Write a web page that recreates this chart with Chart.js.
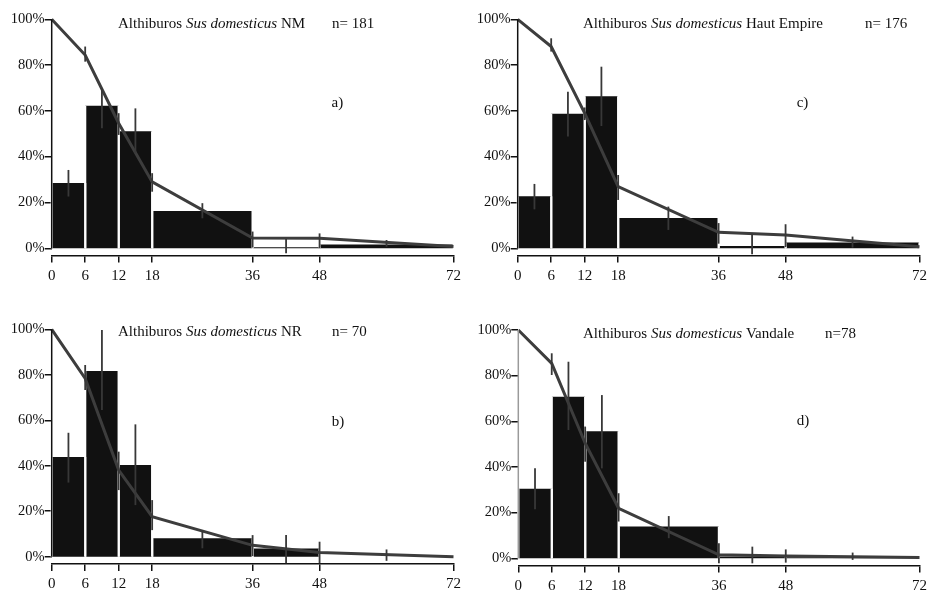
<!DOCTYPE html>
<html>
<head>
<meta charset="utf-8">
<script src="https://cdn.jsdelivr.net/npm/chart.js@4.4.1/dist/chart.umd.min.js"></script>
<style>
  html, body { margin: 0; padding: 0; background: #fff; }
  #wrap { position: relative; width: 931px; height: 592px; overflow: hidden; background: #fff; }
  canvas { position: absolute; }
</style>
</head>
<body>
<div id="wrap">
  <canvas id="cA" width="465" height="296" style="left:0px;top:0px;width:465px;height:296px"></canvas>
  <canvas id="cC" width="466" height="296" style="left:465px;top:0px;width:466px;height:296px"></canvas>
  <canvas id="cB" width="465" height="296" style="left:0px;top:296px;width:465px;height:296px"></canvas>
  <canvas id="cD" width="466" height="296" style="left:465px;top:296px;width:466px;height:296px"></canvas>
</div>
<script>
// ---------- DATA ----------
const binEdges = [0, 6, 12, 18, 36, 48, 72];          // age classes (months)
const survAges = [0, 6, 12, 18, 36, 48, 72];          // survivorship curve ages
const survErrAges = [6, 12, 18, 36, 48];              // ages with error bars on the curve
const xTickValues = [0, 6, 12, 18, 36, 48, 72];
const yTickValues = [0, 20, 40, 60, 80, 100];

const titleSite = 'Althiburos';
const titleTaxon = 'Sus domesticus';
const periods = ['NM', 'Haut Empire', 'NR', 'Vandale'];
const sampleSizes = ['n= 181', 'n= 176', 'n= 70', 'n=78'];
const panelLetters = ['a)', 'c)', 'b)', 'd)'];

// panel a) NM
const barsA = [28.5, 62.2, 51.1, 16.3, 0.5, 1.7];
const barErrLoA = [22.6, 52.4, 41.5, 13.1, -2.2, 0.7];
const barErrHiA = [34.2, 69.9, 61.1, 19.7, 4.0, 3.6];
const survA = [100, 84.4, 54.6, 29.0, 4.5, 4.4, 0.8];
const survErrLoA = [81.5, 49.5, 24.7, 0.3, 0.0];
const survErrHiA = [88.1, 59.0, 32.8, 7.3, 6.5];

// panel c) Haut Empire
const barsC = [22.7, 58.7, 66.4, 13.2, 1.0, 2.5];
const barErrLoC = [17.0, 48.8, 53.4, 8.0, -2.6, 0.3];
const barErrHiC = [28.1, 68.4, 79.3, 18.2, 6.5, 5.1];
const survC = [100, 88.1, 59.0, 26.9, 7.0, 5.8, 0.7];
const survErrLoC = [85.9, 56.0, 21.1, 2.0, 0.5];
const survErrHiC = [91.7, 61.5, 32.0, 11.0, 10.5];

// panel b) NR
const barsB = [43.8, 81.7, 40.3, 8.1, 3.6, 0];
const barErrLoB = [32.6, 64.5, 22.7, 3.7, -2.9, -1.8];
const barErrHiB = [54.5, 99.7, 58.2, 11.7, 9.5, 3.2];
const survB = [100, 78.4, 38.1, 17.6, 5.0, 1.9, 0];
const survErrLoB = [73.3, 29.3, 11.7, 0.3, -2.9];
const survErrHiB = [84.3, 46.2, 24.9, 9.5, 6.6];

// panel d) Vandale
const barsD = [30.5, 70.8, 55.6, 13.9, 0.8, 0.5];
const barErrLoD = [21.5, 56.2, 39.4, 8.8, -2.2, -0.7];
const barErrHiD = [39.4, 86.1, 71.5, 18.5, 5.1, 2.5];
const survD = [100, 85.4, 50.4, 21.9, 1.5, 1.0, 0.3];
const survErrLoD = [80.3, 42.3, 16.1, -2.2, -1.9];
const survErrHiD = [89.8, 57.7, 28.5, 6.6, 3.9];

// ---------- STYLE ----------
const FONT = '"Liberation Serif", "Times New Roman", serif';
const INK = '#111111';
const BAR = '#111111';
const CURVE = '#3d3d3d';
const ERR = '#383838';

const panelTextPlugin = {
  id: 'panelText',
  afterDatasetsDraw(chart, args, o) {
    const ctx = chart.ctx;
    const xs = chart.scales.x, ys = chart.scales.y;
    ctx.save();
    // y axis line from 0% to 100%
    const x0 = xs.getPixelForValue(0);
    ctx.strokeStyle = o.axisColor;
    ctx.lineWidth = 1.5;
    ctx.beginPath();
    ctx.moveTo(x0, ys.getPixelForValue(0));
    ctx.lineTo(x0, ys.getPixelForValue(100));
    ctx.stroke();
    // title
    ctx.fillStyle = INK;
    ctx.textBaseline = 'alphabetic';
    ctx.textAlign = 'left';
    let x = o.titleX;
    ctx.font = '15px ' + FONT;
    ctx.fillText(titleSite + ' ', x, o.titleY);
    x += ctx.measureText(titleSite + ' ').width;
    ctx.font = 'italic 15px ' + FONT;
    ctx.fillText(titleTaxon, x, o.titleY);
    x += ctx.measureText(titleTaxon).width;
    ctx.font = '15px ' + FONT;
    ctx.fillText(' ' + o.period, x, o.titleY);
    ctx.fillText(o.n, o.nX, o.titleY);
    ctx.fillText(o.letter, o.letterX, o.letterY);
    ctx.restore();
  }
};

function makePanel(id, bars, bLo, bHi, surv, sLo, sHi, lay, txt) {
  const datasets = [];
  // histogram bars (one filled outline per age class)
  binEdges.slice(0, -1).forEach((lo, i) => {
    const hi = binEdges[i + 1];
    datasets.push({
      data: [{x: lo, y: 0}, {x: lo, y: bars[i]}, {x: hi, y: bars[i]}, {x: hi, y: 0}],
      fill: 'origin',
      backgroundColor: BAR,
      borderWidth: 2.2,
      segment: {
        borderColor: c => (c.p0.parsed.x === c.p1.parsed.x ? '#ffffff' : 'rgba(0,0,0,0)')
      },
      pointRadius: 0,
      order: 3,
      clip: false
    });
  });
  // survivorship curve
  datasets.push({
    data: survAges.map((a, i) => ({x: a, y: surv[i]})),
    borderColor: CURVE,
    borderWidth: 3,
    pointRadius: 0,
    fill: false,
    order: 2,
    clip: false
  });
  // error bars on bars (at class centres)
  binEdges.slice(0, -1).forEach((lo, i) => {
    const c = (lo + binEdges[i + 1]) / 2;
    datasets.push({
      data: [{x: c, y: bLo[i]}, {x: c, y: bHi[i]}],
      borderColor: ERR, borderWidth: 1.8, pointRadius: 0, fill: false, order: 1, clip: false
    });
  });
  // error bars on the curve
  survErrAges.forEach((a, i) => {
    datasets.push({
      data: [{x: a, y: sLo[i]}, {x: a, y: sHi[i]}],
      borderColor: ERR, borderWidth: 1.8, pointRadius: 0, fill: false, order: 1, clip: false
    });
  });

  new Chart(document.getElementById(id), {
    type: 'line',
    data: { datasets },
    plugins: [panelTextPlugin],
    options: {
      responsive: false,
      animation: false,
      events: [],
      layout: { padding: { left: 0, right: lay.padR, top: lay.padT, bottom: lay.padB } },
      plugins: {
        legend: { display: false },
        tooltip: { enabled: false },
        panelText: txt
      },
      scales: {
        x: {
          type: 'linear', min: 0, max: 72,
          afterBuildTicks: s => { s.ticks = xTickValues.map(v => ({value: v})); },
          afterFit: s => { s.height = lay.xH; },
          ticks: { color: INK, font: { family: FONT, size: 15 }, padding: 4, autoSkip: false, maxRotation: 0 },
          grid: { drawOnChartArea: false, tickLength: 7, color: INK, lineWidth: 1.5 },
          border: { display: true, color: INK, width: 1.5 }
        },
        y: {
          type: 'linear', min: lay.yMin, max: 100,
          afterBuildTicks: s => { s.ticks = yTickValues.map(v => ({value: v})); },
          afterFit: s => { s.width = lay.yW; },
          ticks: { color: INK, font: { family: FONT, size: 14.5 }, padding: 0, callback: v => v + '%' },
          grid: { drawOnChartArea: false, tickLength: 7, color: INK, lineWidth: 1.5 },
          border: { display: false }
        }
      }
    }
  });
}

makePanel('cA', barsA, barErrLoA, barErrHiA, survA, survErrLoA, survErrHiA,
  { yW: 51.7, padR: 8.3, padT: 19.3, padB: 10.4, xH: 30, yMin: -3.2 },
  { period: periods[0], n: sampleSizes[0], letter: panelLetters[0], titleX: 118, titleY: 28, nX: 332, letterX: 331.5, letterY: 107, axisColor: INK });

makePanel('cC', barsC, barErrLoC, barErrHiC, survC, survErrLoC, survErrHiC,
  { yW: 52.7, padR: 9.3, padT: 19.3, padB: 10.4, xH: 30, yMin: -3.2 },
  { period: periods[1], n: sampleSizes[1], letter: panelLetters[1], titleX: 118, titleY: 28.3, nX: 400, letterX: 331.7, letterY: 107, axisColor: INK });

makePanel('cB', barsB, barErrLoB, barErrHiB, survB, survErrLoB, survErrHiB,
  { yW: 51.7, padR: 8.3, padT: 33.3, padB: 0, xH: 28, yMin: -3.2 },
  { period: periods[2], n: sampleSizes[2], letter: panelLetters[2], titleX: 118, titleY: 40, nX: 332, letterX: 331.7, letterY: 130, axisColor: INK });

makePanel('cD', barsD, barErrLoD, barErrHiD, survD, survErrLoD, survErrHiD,
  { yW: 53.3, padR: 9.3, padT: 34, padB: 0.4, xH: 26, yMin: -3.2 },
  { period: periods[3], n: sampleSizes[3], letter: panelLetters[3], titleX: 118, titleY: 42.3, nX: 360, letterX: 331.7, letterY: 129, axisColor: '#9a9a9a' });
</script>
</body>
</html>
